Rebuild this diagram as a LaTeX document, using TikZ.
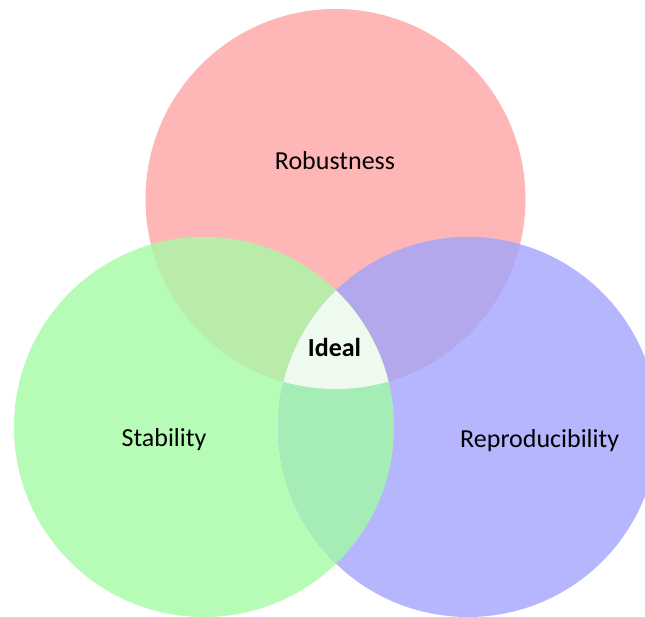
\documentclass[tikz,border=0pt]{standalone}
\usepackage{fontspec}
\setmainfont{Carlito}
\begin{document}
\begin{tikzpicture}[x=1pt,y=-1pt,
  label/.style={anchor=base,inner sep=0pt,font=\fontsize{26}{30}\selectfont,text=black},
  set/.style={draw=none}]
\definecolor{cRob}{RGB}{255,182,182}
\definecolor{cSta}{RGB}{182,252,182}
\definecolor{cRep}{RGB}{182,182,255}
\definecolor{cRobSta}{RGB}{184,236,168}
\definecolor{cRobRep}{RGB}{180,168,236}
\definecolor{cStaRep}{RGB}{166,236,182}
\definecolor{cAll}{RGB}{238,250,238}
\useasboundingbox (0,0) rectangle (645,617);
\clip (0,0) rectangle (645,617);
% three sets
\coordinate (R) at (335.5,199);
\coordinate (S) at (204,427);
\coordinate (P) at (468,427);
\def\rad{190}
\fill[cRob] (R) circle (\rad);
\fill[cSta] (S) circle (\rad);
\fill[cRep] (P) circle (\rad);
% pairwise overlaps
\begin{scope}
  \clip (R) circle (\rad);
  \fill[cRobSta] (S) circle (\rad);
  \fill[cRobRep] (P) circle (\rad);
\end{scope}
\begin{scope}
  \clip (S) circle (\rad);
  \fill[cStaRep] (P) circle (\rad);
\end{scope}
% common region
\begin{scope}
  \clip (R) circle (\rad);
  \clip (S) circle (\rad);
  \fill[cAll] (P) circle (\rad);
\end{scope}
% labels
\node[label] (rob) at (335,169.3) {Robustness};
\node[label] (sta) at (164,446.7) {Stability};
\node[label] (rep) at (539.7,447.3) {Reproducibility};
\node[label,font=\fontsize{26}{30}\selectfont\bfseries] (ideal) at (334.5,356.7) {Ideal};
\end{tikzpicture}
\end{document}
